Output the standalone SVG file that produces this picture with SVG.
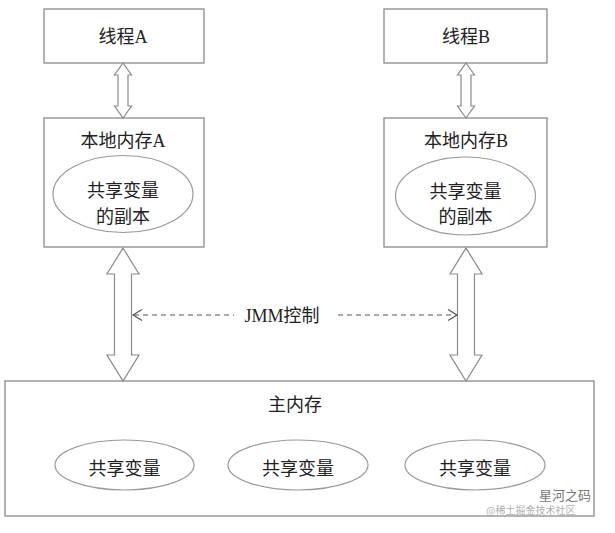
<svg xmlns="http://www.w3.org/2000/svg" width="615" height="533" viewBox="0 0 615 533">
<style>
.box{fill:#fff;stroke:#8a8a8a;stroke-width:1.3}
.ell{fill:#fff;stroke:#9a9a9a;stroke-width:1.2}
.arr{fill:#fff;stroke:#8a8a8a;stroke-width:1.2;stroke-linejoin:miter}
.t{font-family:"Liberation Serif","Noto Sans CJK SC",serif;font-size:18px;fill:#222;text-anchor:middle}
.dash{fill:none;stroke:#555;stroke-width:1.2;stroke-dasharray:5 4}
.head{fill:none;stroke:#555;stroke-width:1.2}
.wm{font-family:"Noto Sans CJK SC",sans-serif;fill:#999}
</style>
<rect width="615" height="533" fill="#fff"/>
<g id="threadA"><rect class="box" x="44" y="9" width="160" height="54"/><text class="t" x="123" y="43">线程A</text></g>
<g id="threadB"><rect class="box" x="384" y="9" width="163" height="54"/><text class="t" x="466" y="43">线程B</text></g>
<g id="localA"><rect class="box" x="44" y="118" width="160" height="129"/><text class="t" x="123" y="147">本地内存A</text>
<ellipse class="ell" cx="123" cy="194" rx="70" ry="38.5"/><text class="t" x="123" y="197">共享变量</text><text class="t" x="123" y="223">的副本</text></g>
<g id="localB"><rect class="box" x="384" y="118" width="163" height="129"/><text class="t" x="466" y="147">本地内存B</text>
<ellipse class="ell" cx="465.5" cy="196" rx="70" ry="39"/><text class="t" x="465.5" y="198">共享变量</text><text class="t" x="465.5" y="223">的副本</text></g>
<g id="mainMem"><rect class="box" x="5" y="381" width="589" height="135"/><text class="t" x="295" y="411">主内存</text>
<ellipse class="ell" cx="124.5" cy="465" rx="69.5" ry="25"/><text class="t" x="124.5" y="475">共享变量</text>
<ellipse class="ell" cx="298" cy="465" rx="70" ry="25"/><text class="t" x="298" y="475">共享变量</text>
<ellipse class="ell" cx="475" cy="465" rx="70" ry="25"/><text class="t" x="475" y="475">共享变量</text></g>
<g id="connectors">
<polygon class="arr" points="123,63 131.5,75 128,75 128,106 131.5,106 123,118 114.5,106 118,106 118,75 114.5,75"/>
<polygon class="arr" points="466,63 474.5,75 471,75 471,106 474.5,106 466,118 457.5,106 461,106 461,75 457.5,75"/>
<polygon class="arr" points="123,248 139,274 131.5,274 131.5,355 139,355 123,381 107,355 114.5,355 114.5,274 107,274"/>
<polygon class="arr" points="466,248 482,274 474.5,274 474.5,355 482,355 466,381 450,355 457.5,355 457.5,274 450,274"/>
<line class="dash" x1="134" y1="315" x2="234" y2="315"/>
<polyline class="head" points="142,309.5 133,315 142,320.5"/>
<line class="dash" x1="338" y1="315" x2="456" y2="315"/>
<polyline class="head" points="448,309.5 457,315 448,320.5"/>
<text class="t" x="282" y="322">JMM控制</text>
</g>
<text class="wm" x="486" y="514" font-size="10" fill-opacity="0.8">@稀土掘金技术社区</text>
<text class="wm" x="539" y="500" font-size="13" style="fill:#777">星河之码</text>
</svg>
